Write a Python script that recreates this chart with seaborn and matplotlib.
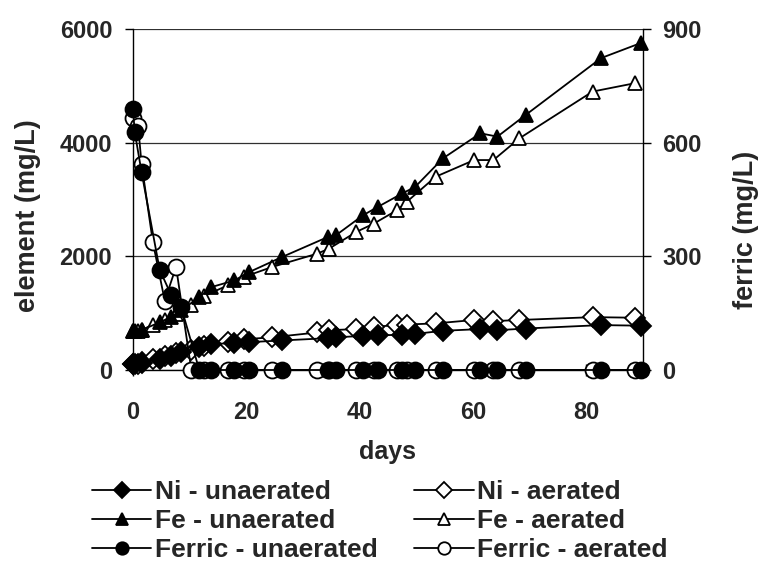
import matplotlib
matplotlib.use("Agg")
import matplotlib.pyplot as plt
import seaborn as sns
import numpy as np

sns.set_style("white")
plt.rcParams['font.family'] = ['Liberation Sans', 'DejaVu Sans']
plt.rcParams['font.weight'] = 'bold'

# ---- data ----
days_unaerated = [0, 0.3, 1.5, 4.7, 6.7, 8.5, 11.7, 13.8, 17.9, 20.5, 26.3, 34.4, 35.8,
                  40.6, 43.2, 47.5, 49.8, 54.7, 61.3, 64.3, 69.3, 82.6, 89.6]
days_aerated = [0, 0.9, 1.5, 3.5, 5.6, 7.6, 10.3, 12.5, 16.7, 19.5, 24.5, 32.5, 34.6,
                39.4, 42.5, 46.6, 48.3, 53.4, 60.2, 63.6, 68.2, 81.1, 88.6]

ni_unaerated = [100, 110, 130, 200, 250, 310, 400, 460, 470, 490, 520, 560, 575,
                600, 610, 620, 635, 690, 720, 700, 730, 790, 780]
ni_aerated = [100, 110, 140, 190, 240, 300, 360, 420, 500, 540, 575, 660, 700,
              720, 760, 790, 800, 820, 880, 860, 880, 930, 920]

fe_unaerated = [690, 690, 700, 840, 930, 1050, 1281, 1458, 1576, 1723, 1988, 2341, 2370,
                2723, 2870, 3106, 3223, 3724, 4165, 4106, 4488, 5488, 5753]
fe_aerated = [680, 690, 700, 800, 880, 980, 1150, 1300, 1488, 1635, 1811, 2047, 2135,
              2429, 2576, 2812, 2958, 3400, 3694, 3694, 4077, 4899, 5047]

ferric_unaerated = [688, 629, 523, 265, 199, 166, 0, 0, 0, 0, 0, 0, 0,
                    0, 0, 0, 0, 0, 0, 0, 0, 0, 0]
ferric_aerated = [665, 645, 545, 338, 183, 272, 0, 0, 0, 0, 0, 0, 0,
                  0, 0, 0, 0, 0, 0, 0, 0, 0, 0]

labels = ["Ni - unaerated", "Ni - aerated", "Fe - unaerated", "Fe - aerated",
          "Ferric - unaerated", "Ferric - aerated"]

x_ticks = [0, 20, 40, 60, 80]
left_ticks = [0, 2000, 4000, 6000]
right_ticks = [0, 300, 600, 900]

# ---- figure ----
W, H = 762, 563
fig = plt.figure(figsize=(W / 100, H / 100), dpi=100)
L, R, T, B = 133, 643, 29, 370
ax = fig.add_axes([L / W, 1 - B / H, (R - L) / W, (B - T) / H])
ax2 = ax.twinx()

FS_TICK = 17
FS_LAB = 19.5
FS_LEG = 19
lw = 1.3
ms_d, ms_t, ms_c = 10.5, 10.5, 11.5

def draw(axis, x, y, marker, filled, ms, label):
    sns.lineplot(x=x, y=y, ax=axis, color='black', linewidth=lw, marker=marker,
                 markersize=ms, markerfacecolor='black' if filled else 'white',
                 markeredgecolor='black', markeredgewidth=1.3,
                 estimator=None, sort=False, clip_on=False, label=label, legend=False)
    return axis.lines[-1]

handles = {}
handles[labels[1]] = draw(ax, days_aerated, ni_aerated, 'D', False, ms_d, labels[1])
handles[labels[0]] = draw(ax, days_unaerated, ni_unaerated, 'D', True, ms_d, labels[0])
handles[labels[3]] = draw(ax, days_aerated, fe_aerated, '^', False, ms_t, labels[3])
handles[labels[2]] = draw(ax, days_unaerated, fe_unaerated, '^', True, ms_t, labels[2])
handles[labels[5]] = draw(ax2, days_aerated, ferric_aerated, 'o', False, ms_c, labels[5])
handles[labels[4]] = draw(ax2, days_unaerated, ferric_unaerated, 'o', True, ms_c, labels[4])

ax.set_xlim(0, 90)
ax.set_ylim(0, 6000)
ax2.set_ylim(0, 900)
ax.set_xticks(x_ticks)
ax.set_yticks(left_ticks)
ax2.set_yticks(right_ticks)

ax.yaxis.grid(True, color='#303030', linewidth=0.9)
ax.xaxis.grid(False)
ax2.grid(False)

for a in (ax, ax2):
    for s in a.spines.values():
        s.set_visible(False)
ax.spines['left'].set_visible(True)
ax.spines['bottom'].set_visible(True)
ax2.spines['right'].set_visible(True)
for s in (ax.spines['left'], ax.spines['bottom'], ax2.spines['right']):
    s.set_color('black')
    s.set_linewidth(1.0)

ax.tick_params(axis='y', which='both', direction='out', length=6, width=1,
               color='black', pad=9, labelsize=FS_TICK, left=True)
ax.tick_params(axis='x', direction='inout', length=8, width=1, color='black',
               pad=18, labelsize=FS_TICK, bottom=True)
ax2.tick_params(axis='y', direction='out', length=6, width=1, color='black',
                pad=8, labelsize=FS_TICK, right=True)
for t in ax.get_xticklabels() + ax.get_yticklabels() + ax2.get_yticklabels():
    t.set_fontweight('bold')

ax.set_xlabel('')
ax.set_ylabel('')
ax2.set_ylabel('')

fig.text(28 / W, 1 - 216 / H, 'element (mg/L)', rotation=90, ha='center', va='center',
         fontsize=FS_LAB, fontweight='bold')
fig.text(746 / W, 1 - 230 / H, 'ferric (mg/L)', rotation=90, ha='center', va='center',
         fontsize=FS_LAB, fontweight='bold')
fig.text(388 / W, 1 - 452 / H, 'days', ha='center', va='center',
         fontsize=18, fontweight='bold')

order = [labels[0], labels[2], labels[4], labels[1], labels[3], labels[5]]
leg = fig.legend([handles[k] for k in order], order, ncol=2, loc='upper left',
                 bbox_to_anchor=(92 / W, 1 - 480 / H), frameon=False,
                 prop={'size': FS_LEG, 'weight': 'bold'}, handlelength=2.25,
                 handletextpad=0.12, columnspacing=1.4, labelspacing=0.19,
                 markerscale=0.78, borderpad=0, borderaxespad=0)

fig.savefig('out.png', dpi=100)
